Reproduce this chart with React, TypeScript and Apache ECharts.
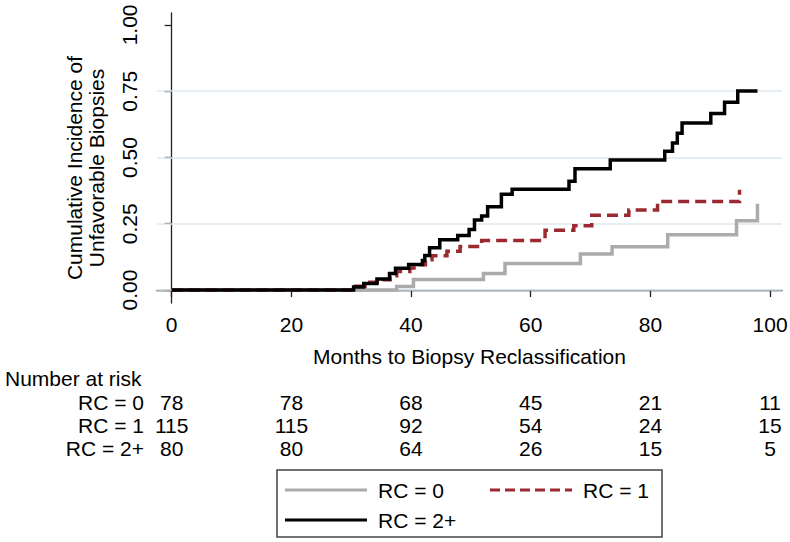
import React, { useEffect, useRef } from "react";
import * as echarts from "echarts";

// ---- data ----
const rc0Times = [0, 37.6, 40.4, 52.1, 55.7, 68.3, 73.6, 82.9, 94.4, 97.9, 97.9];
const rc0Values = [0, 0.013, 0.04, 0.062, 0.1, 0.136, 0.163, 0.208, 0.261, 0.261, 0.325];

const rc1Times = [0, 30.7, 32.3, 34.8, 36.5, 37.6, 39.8, 41.5, 42.4, 43.5, 46.0, 48.2, 51.8, 62.4, 67.2, 70.2, 76.4, 81.2, 94.9, 94.9];
const rc1Values = [0, 0.014, 0.029, 0.039, 0.054, 0.07, 0.083, 0.095, 0.114, 0.129, 0.146, 0.164, 0.187, 0.225, 0.242, 0.282, 0.302, 0.334, 0.334, 0.378];

const rc2Times = [0, 30.4, 32.1, 34.3, 36.4, 37.4, 39.6, 41.9, 42.3, 43.1, 44.8, 47.8, 49.7, 50.6, 51.8, 52.8, 55.1, 56.9, 66.4, 67.4, 73.3, 82.4, 83.7, 84.5, 85.3, 90.1, 92.4, 94.6, 97.9];
const rc2Values = [0, 0.011, 0.025, 0.042, 0.062, 0.082, 0.096, 0.111, 0.13, 0.159, 0.19, 0.206, 0.228, 0.264, 0.279, 0.314, 0.361, 0.38, 0.41, 0.457, 0.49, 0.523, 0.555, 0.591, 0.63, 0.666, 0.708, 0.751, 0.751];

const xTicks = [0, 20, 40, 60, 80, 100];
const yTicks = [0, 0.25, 0.5, 0.75, 1];
const gridValues = [0, 0.25, 0.5, 0.75];

const riskTimes = [0, 20, 40, 60, 80, 100];
const riskLabels = ["RC = 0", "RC = 1", "RC = 2+"];
const riskRC0 = [78, 78, 68, 45, 21, 11];
const riskRC1 = [115, 115, 92, 54, 24, 15];
const riskRC2 = [80, 80, 64, 26, 15, 5];

const legendNames = ["RC = 0", "RC = 1", "RC = 2+"];
const seriesColors = ["#ababab", "#9b2a30", "#000000"];

const FONT = "'Liberation Sans', Arial, sans-serif";
const FS = 21;

const zip = (t: number[], v: number[]) => t.map((x, i) => [x, v[i]]);

export default function App() {
  const ref = useRef<HTMLDivElement>(null);
  useEffect(() => {
    if (!ref.current) return;
    const chart = echarts.init(ref.current, undefined, { renderer: "svg" });
    const lineBase = (name: string, data: number[][], color: string, z: number, dash?: number[]) => ({
      name,
      type: "line",
      step: "end",
      data,
      z,
      symbol: "none",
      showSymbol: false,
      lineStyle: { color, width: 3.5, type: dash ? dash : "solid", cap: "butt", join: "miter" },
      itemStyle: { color },
      silent: true,
    });
    chart.setOption({
      animation: false,
      grid: { left: 157, right: 8, top: 13, bottom: 239, containLabel: false, outerBoundsMode: "none" },
      xAxis: {
        type: "value",
        min: -2.46,
        max: 102,
        axisLine: { show: true, lineStyle: { color: "#222", width: 1.3 } },
        axisTick: { show: true, customValues: xTicks, length: 7, lineStyle: { color: "#222", width: 1.3 } },
        axisLabel: { customValues: xTicks, margin: 11, color: "#000", fontFamily: FONT, fontSize: FS },
        splitLine: { show: false },
      },
      yAxis: {
        type: "value",
        min: -0.049,
        max: 1.045,
        axisLine: { show: true, lineStyle: { color: "#222", width: 1.3 } },
        axisTick: { show: true, customValues: yTicks, length: 7, lineStyle: { color: "#222", width: 1.3 } },
        axisLabel: {
          customValues: yTicks,
          rotate: 90,
          margin: 17,
          color: "#000",
          fontFamily: FONT,
          fontSize: FS,
          formatter: (v: number) => v.toFixed(2),
        },
        splitLine: { show: false },
      },
      series: [
        {
          type: "line",
          data: [],
          z: 1,
          silent: true,
          markLine: {
            z: 1,
            silent: true,
            symbol: "none",
            label: { show: false },
            lineStyle: { color: "#dce8ee", width: 1.5, type: "solid" },
            data: gridValues.map((v) => ({ yAxis: v })),
          },
        },
        lineBase(legendNames[0], zip(rc0Times, rc0Values), seriesColors[0], 6),
        lineBase(legendNames[1], zip(rc1Times, rc1Values), seriesColors[1], 7, [11, 6]),
        lineBase(legendNames[2], zip(rc2Times, rc2Values), seriesColors[2], 8),
      ],
    });

    const px = (t: number) => chart.convertToPixel({ xAxisIndex: 0 }, t) as number;
    const textStyle = (extra: any) => ({ fontFamily: FONT, fontSize: FS, fill: "#000", ...extra });
    const graphics: any[] = [];
    // y-axis title
    graphics.push({
      type: "text",
      x: 85,
      y: 168,
      rotation: Math.PI / 2,
      style: textStyle({
        text: "Cumulative Incidence of\nUnfavorable Biopsies",
        align: "center",
        verticalAlign: "middle",
        lineHeight: 22,
      }),
    });
    // x-axis title
    graphics.push({
      type: "text",
      x: (px(-2.46) + px(102)) / 2,
      y: 356,
      style: textStyle({ text: "Months to Biopsy Reclassification", align: "center", verticalAlign: "middle" }),
    });
    // risk table
    graphics.push({
      type: "text",
      x: 5,
      y: 378,
      style: textStyle({ text: "Number at risk", align: "left", verticalAlign: "middle" }),
    });
    const rows = [riskRC0, riskRC1, riskRC2];
    const rowY = [402, 425, 448];
    rows.forEach((row, r) => {
      graphics.push({
        type: "text",
        x: 144,
        y: rowY[r],
        style: textStyle({ text: riskLabels[r], align: "right", verticalAlign: "middle" }),
      });
      row.forEach((n, i) => {
        graphics.push({
          type: "text",
          x: px(riskTimes[i]),
          y: rowY[r],
          style: textStyle({ text: String(n), align: "center", verticalAlign: "middle" }),
        });
      });
    });
    // legend box
    graphics.push({
      type: "rect",
      shape: { x: 277, y: 470, width: 385, height: 67 },
      style: { fill: "#fff", stroke: "#444", lineWidth: 1.5 },
    });
    const legendItems = [
      { x: 285, y: 490, name: legendNames[0], color: seriesColors[0], dash: null },
      { x: 490, y: 490, name: legendNames[1], color: seriesColors[1], dash: [10, 5] },
      { x: 285, y: 520, name: legendNames[2], color: seriesColors[2], dash: null },
    ];
    legendItems.forEach((it) => {
      graphics.push({
        type: "line",
        shape: { x1: it.x, y1: it.y, x2: it.x + 82, y2: it.y },
        style: { stroke: it.color, lineWidth: 3, lineDash: it.dash || undefined },
      });
      graphics.push({
        type: "text",
        x: it.x + 93,
        y: it.y,
        style: textStyle({ text: it.name, align: "left", verticalAlign: "middle" }),
      });
    });
    chart.setOption({ graphic: graphics });

    return () => chart.dispose();
  }, []);
  return <div ref={ref} style={{ width: 790, height: 542, position: "absolute", left: 0, top: 0 }} />;
}
